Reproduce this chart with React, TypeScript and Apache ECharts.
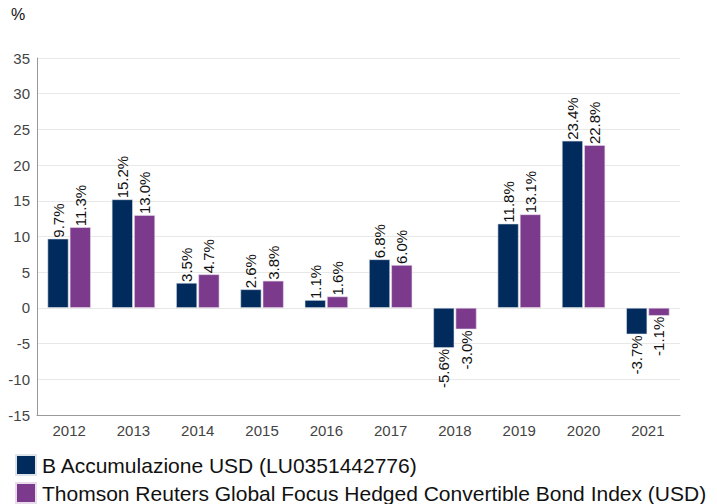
import React, { useEffect, useRef } from "react";
import * as echarts from "echarts";

const years = ["2012", "2013", "2014", "2015", "2016", "2017", "2018", "2019", "2020", "2021"];
const fundValues = [9.7, 15.2, 3.5, 2.6, 1.1, 6.8, -5.6, 11.8, 23.4, -3.7];
const indexValues = [11.3, 13.0, 4.7, 3.8, 1.6, 6.0, -3.0, 13.1, 22.8, -1.1];
const fundName = "B Accumulazione USD (LU0351442776)";
const indexName = "Thomson Reuters Global Focus Hedged Convertible Bond Index (USD)";

const FONT = "Liberation Sans, Arial, sans-serif";

function toData(vals: number[]) {
  return vals.map((v) => ({
    value: v,
    label:
      v >= 0
        ? { position: "top", align: "left", verticalAlign: "middle" }
        : { position: "bottom", align: "right", verticalAlign: "middle" },
  }));
}

export default function App() {
  const ref = useRef<HTMLDivElement>(null);
  useEffect(() => {
    if (!ref.current) return;
    document.body.style.margin = "0";
    const chart = echarts.init(ref.current, undefined, { renderer: "svg" });
    const label = {
      show: true,
      rotate: 90,
      distance: 1,
      fontSize: 15,
      color: "#111",
      fontFamily: FONT,
      formatter: (p: any) => `${Number(p.value).toFixed(1)}%`,
    };
    chart.setOption({
      animation: false,
      textStyle: { fontFamily: FONT },
      graphic: [
        {
          type: "text",
          left: 11,
          top: 6,
          style: { text: "%", fontSize: 16, fill: "#111", fontFamily: FONT },
        },
      ],
      grid: { left: 37, right: 37, top: 58, bottom: 89, containLabel: false },
      legend: {
        orient: "vertical",
        left: 15,
        top: 454,
        padding: 0,
        itemWidth: 20,
        itemHeight: 20,
        itemGap: 6,
        icon: "rect",
        textStyle: {
          fontSize: 21,
          lineHeight: 20,
          color: "#111",
          fontFamily: FONT,
          padding: [0, 0, 0, 1],
        },
        data: [fundName, indexName],
      },
      xAxis: {
        type: "category",
        data: years,
        axisLine: { onZero: false, lineStyle: { color: "#999" } },
        axisTick: { show: false },
        axisLabel: { fontSize: 15, color: "#444", margin: 8 },
      },
      yAxis: {
        type: "value",
        min: -15,
        max: 35,
        interval: 5,
        axisLine: { show: true, lineStyle: { color: "#999" } },
        axisTick: { show: false },
        axisLabel: { fontSize: 15, color: "#444", margin: 7 },
        splitLine: { lineStyle: { color: "#e8e8e8" } },
      },
      series: [
        {
          name: fundName,
          type: "bar",
          data: toData(fundValues),
          barWidth: 21,
          barGap: "6%",
          itemStyle: { color: "#002b5c", borderColor: "#dfe3ea", borderWidth: 0.6 },
          label,
        },
        {
          name: indexName,
          type: "bar",
          data: toData(indexValues),
          barWidth: 21,
          itemStyle: { color: "#7b3a8b", borderColor: "#e8dcec", borderWidth: 0.6 },
          label,
        },
      ],
    });
    return () => chart.dispose();
  }, []);
  return <div ref={ref} style={{ width: 717, height: 504 }} />;
}
